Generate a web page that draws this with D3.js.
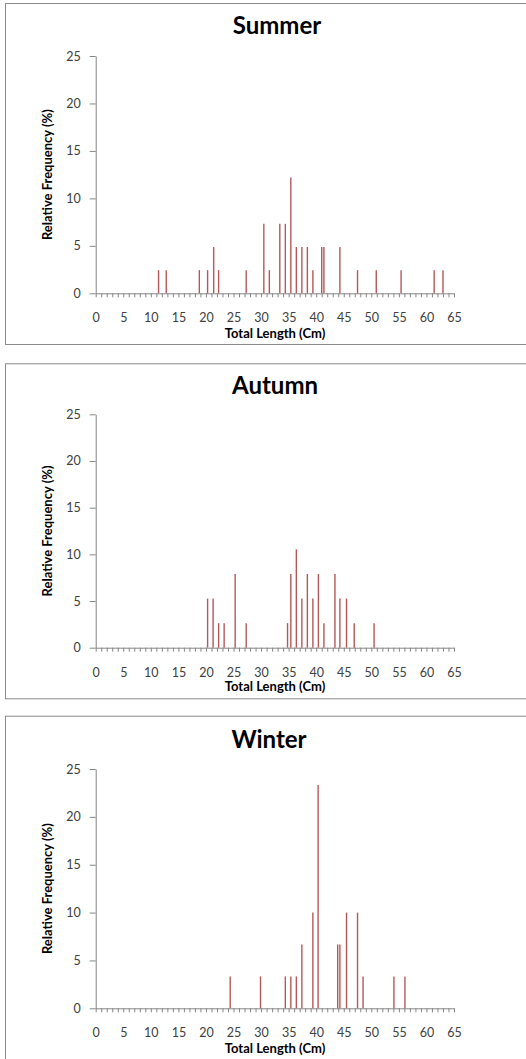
<!DOCTYPE html>
<html>
<head>
<meta charset="utf-8">
<script src="https://cdn.jsdelivr.net/npm/d3@7"></script>
<style>
  body { margin: 0; background: #fff; }
  svg { display: block; }
  .axis path, .axis line { stroke: #868686; }
  .axis text { fill: #404040; font-family: Lato, sans-serif; font-size: 12.5px; }
</style>
</head>
<body>
<div id="chart"></div>
<script>
// data (total length in cm, relative frequency in %)
var summerLength = [11.4, 12.8, 18.8, 20.3, 21.4, 22.3, 27.3, 30.5, 31.5, 33.4, 34.4, 35.4, 36.4, 37.4, 38.4, 39.4, 41.0, 41.4, 44.3, 47.5, 50.9, 55.4, 61.4, 63.0];
var summerFreq   = [2.44, 2.44, 2.44, 2.44, 4.88, 2.44, 2.44, 7.32, 2.44, 7.32, 7.32, 12.2, 4.88, 4.88, 4.88, 2.44, 4.88, 4.88, 4.88, 2.44, 2.44, 2.44, 2.44, 2.44];

var autumnLength = [20.3, 21.3, 22.3, 23.3, 25.3, 27.3, 34.8, 35.4, 36.4, 37.4, 38.4, 39.4, 40.4, 41.4, 43.4, 44.3, 45.5, 46.9, 50.5];
var autumnFreq   = [5.26, 5.26, 2.63, 2.63, 7.89, 2.63, 2.63, 7.89, 10.53, 5.26, 7.89, 5.26, 7.89, 2.63, 7.89, 5.26, 5.26, 2.63, 2.63];

var winterLength = [24.4, 29.9, 34.4, 35.4, 36.4, 37.4, 39.4, 40.35, 43.9, 44.3, 45.5, 47.5, 48.5, 54.1, 56.1];
var winterFreq   = [3.33, 3.33, 3.33, 3.33, 3.33, 6.67, 10, 23.33, 6.67, 6.67, 10, 10, 3.33, 3.33, 3.33];

var seasons = ["Summer", "Autumn", "Winter"];
var xTicks = d3.range(0, 66);
var yTicks = [0, 5, 10, 15, 20, 25];
var xTitle = "Total Length (Cm)";
var yTitle = "Relative Frequency (%)";

var svgWidth = 526;
var svgHeight = 1059;

// panel layout, one entry per season
var panels = [
    {top: 3,     bottom: 344,  plotTop: 56,  plotBottom: 293.3,  titleX: 277, titleY: 33.5, labelY: 338},
    {top: 363.3, bottom: 698.3, plotTop: 414.3, plotBottom: 647.7, titleX: 275, titleY: 393.5, labelY: 691},
    {top: 715.7, bottom: 1070, plotTop: 769, plotBottom: 1008.3, titleX: 269, titleY: 748, labelY: 1053}
];
var lengths = [summerLength, autumnLength, winterLength];
var freqs = [summerFreq, autumnFreq, winterFreq];

var plotLeft = 95.7;
var plotRight = 454;

var svg = d3.select("#chart")
    .append("svg")
    .attr("width", svgWidth)
    .attr("height", svgHeight);

var xScale = d3.scaleLinear()
    .domain([0, 65])
    .range([plotLeft, plotRight]);

seasons.forEach(function(name, i) {
    var p = panels[i];
    var g = svg.append("g");

    // panel frame
    g.append("rect")
        .attr("x", 5.5)
        .attr("y", p.top + 0.5)
        .attr("width", 530)
        .attr("height", p.bottom - p.top)
        .attr("fill", "#fff")
        .attr("stroke", "#8a8a8a")
        .attr("stroke-width", 1);

    var yScale = d3.scaleLinear()
        .domain([0, 25])
        .range([p.plotBottom, p.plotTop]);

    // title
    g.append("text")
        .attr("x", p.titleX)
        .attr("y", p.titleY)
        .attr("text-anchor", "middle")
        .attr("font-family", "Lato, sans-serif")
        .attr("font-weight", "bold")
        .attr("font-size", "24px")
        .attr("fill", "#000")
        .text(name);

    // y axis
    g.append("g")
        .attr("class", "axis")
        .attr("transform", `translate(${plotLeft}, 0)`)
        .call(d3.axisLeft(yScale).tickValues(yTicks).tickSize(6).tickSizeOuter(0).tickPadding(9));

    // x axis, minor tick every cm, label every 5
    g.append("g")
        .attr("class", "axis")
        .attr("transform", `translate(0, ${p.plotBottom})`)
        .call(d3.axisBottom(xScale)
            .tickValues(xTicks)
            .tickSize(4)
            .tickSizeOuter(0)
            .tickPadding(16)
            .tickFormat(d => d % 5 === 0 ? d : ""));

    // frequency lines
    var data = lengths[i].map((d, j) => ({len: d, freq: freqs[i][j]}));
    g.selectAll(".bar")
        .data(data)
        .enter()
        .append("line")
        .attr("class", "bar")
        .attr("x1", d => xScale(d.len))
        .attr("x2", d => xScale(d.len))
        .attr("y1", yScale(0))
        .attr("y2", d => yScale(d.freq))
        .attr("stroke", "#b5585a")
        .attr("stroke-width", 1.4);

    // axis titles
    g.append("text")
        .attr("x", 275)
        .attr("y", p.labelY)
        .attr("text-anchor", "middle")
        .attr("font-family", "Lato, sans-serif")
        .attr("font-weight", "bold")
        .attr("font-size", "13px")
        .attr("fill", "#000")
        .text(xTitle);

    g.append("text")
        .attr("transform", `translate(52, ${(p.plotTop + p.plotBottom) / 2}) rotate(-90)`)
        .attr("text-anchor", "middle")
        .attr("font-family", "Lato, sans-serif")
        .attr("font-weight", "bold")
        .attr("font-size", "13px")
        .attr("fill", "#000")
        .text(yTitle);
});
</script>
</body>
</html>
